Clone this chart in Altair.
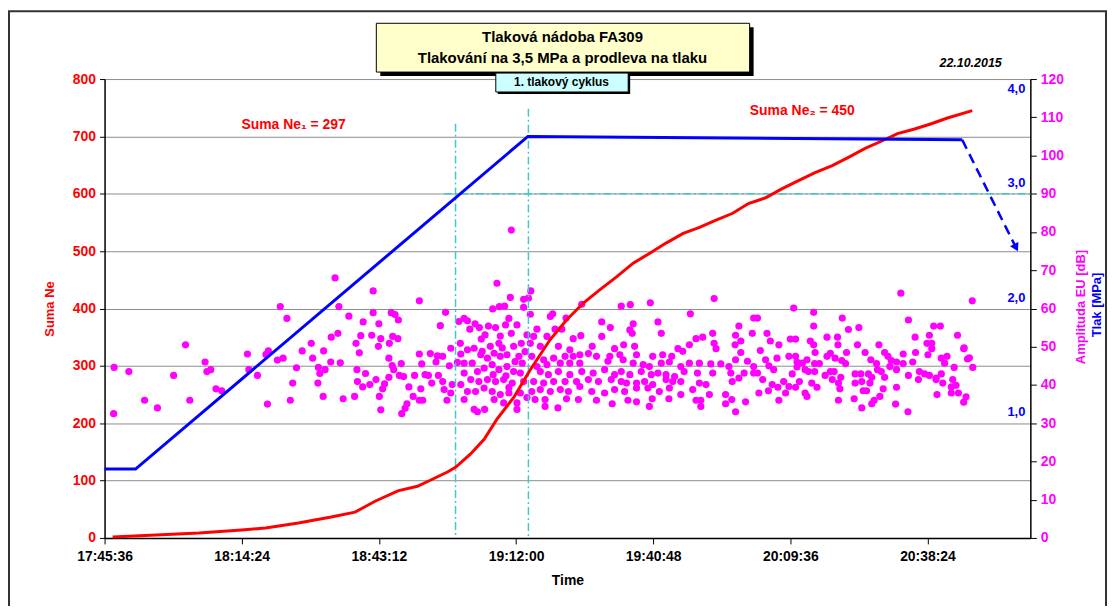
import altair as alt
import pandas as pd

FONT = "Liberation Sans"

# ---------------- data (time = minutes since midnight) ----------------
x_ticks = [1065.6, 1094.4, 1123.2, 1152.0, 1180.8, 1209.6, 1238.4]

ne_time = [1067.3, 1085.4, 1094.4, 1099.4, 1106.3, 1113.2, 1118.2, 1122.4, 1127.2, 1131.3,
           1134.1, 1137.6, 1139.3, 1142.4, 1145.3, 1148.0, 1151.6, 1154.9, 1159.1, 1162.6,
           1166.2, 1169.5, 1173.1, 1176.6, 1180.0, 1183.5, 1187.1, 1190.4, 1194.0, 1197.5,
           1200.8, 1204.4, 1207.9, 1211.3, 1214.8, 1218.4, 1221.7, 1225.3, 1228.8, 1232.1,
           1235.7, 1239.2, 1242.6, 1247.8]
ne_sum = [1.7, 8.7, 13.9, 17.4, 26, 36.4, 45, 64, 82, 90,
          101, 115, 123, 146, 172, 207, 246, 292, 345, 380,
          410, 432, 455, 479, 496, 514, 531, 541, 554, 566,
          583, 593, 609, 623, 637, 649, 663, 679, 692, 705,
          713, 722, 732, 745]

p_time = [1065.6, 1072.1, 1154.5, 1245.7]
p_mpa = [0.6, 0.6, 3.5, 3.47]
p_drop_time = [1245.7, 1257.0]
p_drop_mpa = [3.47, 2.53]
p_labels = [4.0, 3.0, 2.0, 1.0]

eu_time = [
    1067.6, 1067.5, 1070.7, 1074.0, 1076.7, 1080.1, 1082.6, 1083.5, 1086.7, 1087.1,
    1087.9, 1089.0, 1090.2, 1095.6, 1095.9, 1097.7, 1099.5, 1100.0, 1099.8, 1101.9,
    1103.1, 1102.5, 1103.9, 1104.6, 1105.1, 1105.9, 1107.1, 1109.0, 1109.3, 1110.5,
    1110.4, 1110.8, 1111.5, 1111.6, 1111.9, 1114.0, 1114.8, 1122.0, 1131.7, 1151.0,
    1148.0, 1150.8, 1153.6, 1147.1, 1148.5, 1149.6, 1153.6, 1113.2, 1114.6, 1116.9,
    1113.1, 1115.1, 1119.9, 1122.0, 1125.8, 1126.6, 1127.3, 1123.2, 1119.4, 1118.4,
    1121.7, 1123.6, 1123.1, 1125.4, 1126.1, 1127.2, 1119.1, 1125.3, 1126.0, 1127.9,
    1118.6, 1120.4, 1126.3, 1118.7, 1119.8, 1121.3, 1122.6, 1124.4, 1125.3, 1124.0,
    1115.7, 1118.1, 1123.3, 1123.6, 1127.5, 1128.4, 1129.5, 1130.7, 1131.7, 1132.2,
    1132.9, 1132.0, 1130.4, 1131.7, 1132.4, 1129.1, 1128.7, 1128.0, 1134.0, 1135.2,
    1135.5, 1136.6, 1136.1, 1137.2, 1133.6, 1134.3, 1135.7, 1136.6, 1136.9, 1137.5,
    1138.3, 1138.6, 1138.0, 1138.3, 1139.7, 1140.0, 1141.1, 1141.8, 1142.3, 1143.4,
    1144.3, 1146.2, 1147.7, 1149.8, 1150.5, 1151.0, 1148.7, 1144.7, 1140.3, 1141.8,
    1143.2, 1144.9, 1146.6, 1148.4, 1151.5, 1153.1, 1140.4, 1141.1, 1142.8, 1144.6,
    1146.0, 1147.4, 1148.7, 1150.1, 1152.6, 1153.3, 1143.9, 1145.3, 1147.0, 1148.4,
    1150.1, 1151.5, 1152.9, 1141.1, 1142.5, 1144.2, 1146.0, 1147.7, 1149.4, 1151.2,
    1153.6, 1140.4, 1141.8, 1143.5, 1145.3, 1147.0, 1148.7, 1150.5, 1152.9, 1141.1,
    1143.2, 1143.9, 1145.4, 1147.4, 1149.4, 1152.2, 1152.2, 1154.3, 1153.9, 1151.8,
    1150.5, 1154.3, 1149.1, 1145.5, 1152.2, 1147.2, 1149.9, 1155.1, 1154.6, 1155.0,
    1159.2, 1159.7, 1162.5, 1165.8, 1174.1, 1176.0, 1180.2, 1193.6, 1188.6, 1201.9,
    1181.8, 1170.0, 1171.8, 1176.6, 1175.9, 1176.4, 1182.5, 1156.4, 1160.2, 1161.6,
    1155.7, 1158.5, 1164.0, 1165.6, 1170.0, 1172.7, 1174.6, 1176.9, 1168.0, 1163.3,
    1160.9, 1157.1, 1155.0, 1186.0, 1188.4, 1189.8, 1191.2, 1193.3, 1193.6, 1194.0,
    1198.1, 1198.8, 1199.2, 1198.0, 1201.6, 1199.2, 1187.0, 1182.8, 1184.7, 1180.7,
    1177.3, 1173.8, 1171.7, 1168.9, 1167.2, 1165.4, 1164.0, 1162.3, 1159.9, 1157.8,
    1155.3, 1156.4, 1158.5, 1161.3, 1163.3, 1165.4, 1171.3, 1174.5, 1176.6, 1178.7,
    1180.0, 1182.5, 1184.2, 1186.6, 1188.4, 1190.5, 1192.9, 1195.0, 1196.7, 1198.1,
    1200.6, 1201.9, 1157.1, 1158.8, 1160.9, 1163.3, 1165.8, 1168.2, 1170.6, 1172.7,
    1174.1, 1175.9, 1178.3, 1180.4, 1181.8, 1183.5, 1185.3, 1187.3, 1190.1, 1193.3,
    1197.1, 1199.9, 1201.9, 1155.7, 1157.8, 1159.9, 1162.3, 1164.7, 1167.2, 1169.3,
    1172.0, 1174.1, 1175.2, 1177.3, 1179.0, 1180.7, 1183.5, 1184.9, 1186.6, 1190.5,
    1191.9, 1197.4, 1198.8, 1155.3, 1157.1, 1159.2, 1161.3, 1163.0, 1165.4, 1167.9,
    1170.6, 1172.7, 1174.8, 1177.3, 1179.7, 1182.1, 1184.2, 1186.6, 1189.1, 1192.6,
    1196.0, 1156.0, 1158.1, 1162.6, 1165.1, 1168.9, 1172.2, 1175.5, 1177.3, 1180.6,
    1184.1, 1189.8, 1190.8, 1196.0, 1197.3, 1200.2, 1158.1, 1160.8, 1180.0, 1190.8, 1198.1,
    1210.3, 1214.5, 1214.5, 1220.5, 1221.8, 1224.0, 1232.8, 1234.4, 1239.7,
    1241.1, 1247.8, 1235.8, 1238.8, 1238.3, 1239.3, 1239.3, 1244.7, 1246.0, 1235.9,
    1233.3, 1228.2, 1223.7, 1219.5, 1217.3, 1219.6, 1213.8, 1214.5, 1209.6, 1210.7,
    1204.7, 1205.4, 1207.2, 1202.7, 1203.3, 1206.8, 1209.3, 1210.7, 1204.4, 1205.1,
    1211.0, 1212.1, 1213.1, 1214.8, 1214.7, 1215.7, 1217.3, 1218.0, 1219.0, 1220.4,
    1221.4, 1221.2, 1225.3, 1226.5, 1227.7, 1229.4, 1230.1, 1230.8, 1231.9, 1233.3,
    1235.3, 1238.5, 1241.3, 1242.0, 1242.5, 1244.0, 1246.8, 1247.9, 1206.1, 1210.0,
    1211.0, 1212.7, 1213.4, 1214.7, 1216.9, 1218.0, 1218.8, 1220.2, 1223.2, 1224.4,
    1226.0, 1226.7, 1227.9, 1228.7, 1229.4, 1230.5, 1231.9, 1234.4, 1236.7, 1237.8,
    1238.8, 1240.2, 1241.3, 1243.7, 1202.7, 1203.8, 1205.8, 1207.0, 1208.2, 1209.3,
    1210.7, 1211.5, 1214.1, 1215.2, 1218.4, 1219.7, 1220.0, 1223.2, 1224.6, 1226.3,
    1229.1, 1231.9, 1236.5, 1240.2, 1241.6, 1243.4, 1244.4, 1203.0, 1205.0, 1208.6,
    1212.7, 1213.1, 1219.7, 1223.0, 1224.9, 1225.6, 1227.2, 1228.4, 1231.7, 1234.3,
    1240.4, 1243.4, 1244.9, 1246.5, 1246.0, 1207.2, 1224.6, 1226.7, 1247.2, 1246.1,
]
eu_db = [
    44.6, 32.5, 43.5, 36.0, 34.0, 42.5, 50.5, 36.0, 46.0, 43.5,
    44.0, 39.0, 38.5, 48.1, 44.0, 42.5, 48.0, 48.9, 35.0, 46.5,
    47.0, 60.5, 57.4, 36.0, 40.5, 44.5, 48.9, 50.9, 47.0, 44.6,
    40.5, 43.0, 37.0, 48.9, 44.0, 68.0, 60.5, 64.6, 62.0, 80.5,
    66.6, 62.9, 62.4, 59.9, 60.5, 60.6, 60.3, 52.5, 53.5, 58.0,
    46.0, 45.8, 56.5, 58.9, 58.9, 58.4, 57.0, 56.0, 52.9, 50.9,
    53.0, 52.1, 50.1, 50.9, 52.7, 52.1, 48.4, 47.0, 45.1, 45.6,
    44.0, 43.0, 44.0, 40.9, 39.5, 40.1, 41.4, 40.3, 42.0, 39.0,
    36.4, 37.0, 37.0, 33.5, 42.5, 42.2, 39.5, 42.5, 48.1, 45.5,
    42.7, 39.0, 37.0, 36.0, 36.0, 35.1, 33.9, 32.5, 48.2, 46.0,
    47.6, 47.5, 55.5, 59.0, 42.5, 40.5, 42.5, 40.9, 38.8, 36.0,
    37.9, 40.1, 45.0, 49.6, 45.9, 56.6, 57.4, 56.8, 54.6, 56.0,
    55.0, 55.4, 55.0, 55.7, 57.4, 53.5, 52.8, 52.0, 50.9, 49.2,
    49.6, 48.8, 50.1, 50.9, 50.1, 50.9, 48.1, 45.7, 45.7, 47.9,
    47.0, 48.3, 47.5, 47.9, 47.5, 45.7, 43.5, 44.4, 45.3, 44.0,
    44.8, 43.5, 43.1, 43.1, 41.4, 40.9, 41.4, 40.9, 41.4, 40.5,
    40.9, 40.1, 38.3, 38.3, 39.2, 38.3, 37.5, 37.9, 37.9, 36.2,
    33.6, 33.0, 33.6, 36.2, 35.3, 35.3, 33.6, 53.1, 48.7, 46.1,
    39.3, 36.7, 49.7, 53.1, 55.7, 42.7, 42.4, 64.6, 62.7, 58.5,
    57.9, 58.6, 57.5, 61.1, 60.6, 61.0, 61.5, 62.6, 58.6, 57.5,
    56.5, 56.5, 55.0, 56.0, 54.4, 53.5, 53.5, 54.6, 54.6, 54.6,
    52.7, 52.7, 52.1, 52.9, 52.7, 49.5, 50.5, 50.1, 50.1, 49.2,
    50.1, 50.1, 50.9, 49.5, 50.5, 52.1, 52.5, 53.5, 50.9, 49.5,
    53.0, 55.4, 51.5, 50.5, 53.5, 48.5, 48.8, 47.9, 47.5, 47.5,
    47.9, 47.9, 47.5, 47.5, 48.2, 47.9, 47.5, 47.5, 47.0, 46.6,
    47.5, 44.8, 45.3, 45.7, 45.7, 45.7, 46.2, 46.6, 45.7, 45.3,
    44.8, 45.7, 46.0, 44.8, 45.7, 45.7, 45.5, 45.5, 44.8, 46.6,
    46.2, 44.8, 43.5, 42.7, 43.5, 42.7, 43.5, 43.1, 44.0, 42.7,
    43.5, 42.7, 43.5, 42.7, 43.1, 42.7, 42.2, 43.5, 43.1, 43.1,
    43.1, 43.1, 43.1, 40.9, 40.5, 40.9, 40.9, 40.9, 41.4, 40.9,
    41.4, 40.9, 40.5, 40.5, 40.9, 40.1, 41.4, 40.9, 40.9, 40.5,
    40.1, 40.9, 41.8, 38.3, 38.8, 38.3, 38.8, 38.3, 39.6, 38.3,
    37.9, 38.8, 38.3, 39.2, 39.2, 38.3, 39.2, 37.5, 38.8, 37.5,
    37.5, 36.2, 36.2, 36.4, 36.2, 36.0, 35.1, 36.0, 35.6, 36.4,
    36.4, 36.0, 36.0, 35.1, 36.2, 35.6, 34.4, 34.0, 34.4, 34.4, 33.0,
    60.1, 59.0, 55.4, 57.5, 54.5, 55.0, 64.0, 57.0, 55.4,
    55.4, 62.0, 52.5, 53.0, 50.9, 50.9, 49.5, 53.0, 49.5, 48.5,
    48.1, 50.5, 50.5, 52.5, 52.5, 50.5, 51.5, 50.5, 52.0, 52.0,
    53.5, 51.5, 50.5, 57.5, 49.0, 47.0, 47.5, 47.5, 46.6, 45.0,
    46.0, 45.7, 46.6, 48.5, 45.6, 45.6, 47.5, 48.3, 47.0, 46.4,
    48.5, 45.6, 48.5, 46.6, 45.6, 48.5, 47.5, 46.4, 46.0, 45.6,
    46.0, 47.9, 47.0, 45.7, 47.5, 44.6, 46.8, 44.6, 44.0, 42.9,
    44.7, 44.0, 43.5, 43.5, 42.5, 43.5, 43.5, 42.0, 42.9, 42.9,
    42.9, 42.0, 44.0, 43.5, 42.0, 44.8, 44.0, 42.5, 43.5, 42.9,
    42.5, 41.8, 42.9, 41.4, 43.1, 41.4, 40.1, 39.4, 40.9, 39.6,
    39.4, 40.9, 40.5, 39.4, 41.4, 40.5, 39.0, 40.5, 40.9, 40.5,
    39.0, 39.4, 41.4, 41.4, 40.5, 39.5, 39.9, 37.9, 38.5, 37.9,
    37.9, 37.0, 36.0, 36.4, 38.5, 38.5, 36.0, 37.0, 35.0, 33.0,
    37.5, 37.9, 37.9, 36.9, 35.5, 36.0, 34.0, 35.1, 47.1, 49.7,
]

# reference lines (cyan dash-dot), in Suma Ne units
vline_time = [1139.3, 1154.6]
vline_top = [722, 748]
hline_start = [1136.9]
hline_level = [600]

# annotations
ann_text = ["Suma Ne\u2081 = 297", "Suma Ne\u2082 = 450"]
ann_time = [1105.3, 1212.1]
ann_val = [720, 744]

# ---------------- layout ----------------
X0, Y0 = 105, 78       # plot-area origin on the page (for decorations)
W, H = 930, 461
CANVAS_W, CANVAS_H = 1105, 598

def px(x):
    return x - X0

def py(y):
    return y - Y0

X_DOMAIN = [1065.6, 1260.0]
xscale = alt.Scale(domain=X_DOMAIN, nice=False, zero=False)
xaxis = alt.Axis(values=x_ticks,
                 labelExpr="utcFormat(round(datum.value*60)*1000, '%H:%M:%S')",
                 title="Time", labelFont=FONT, labelFontWeight="bold", labelFontSize=14,
                 labelColor="black", titleFont=FONT, titleFontSize=14, titleFontWeight="bold",
                 titleColor="black", titlePadding=10, tickSize=6, tickColor="black",
                 domainColor="black", domainWidth=1.5, grid=False, labelPadding=6,
                 labelOverlap=False, labelFlush=False)


def X(field):
    return alt.X(f"{field}:Q", scale=xscale, axis=xaxis)


ne_df = pd.DataFrame({"t": ne_time, "v": ne_sum})
p_df = pd.DataFrame({"t": p_time, "p": p_mpa})
pd_df = pd.DataFrame({"t": p_drop_time, "p": p_drop_mpa})
eu_df = pd.DataFrame({"t": eu_time, "db": eu_db})
vl_df = pd.DataFrame({"t": vline_time, "top": vline_top, "bot": [0, 0]})
hl_df = pd.DataFrame({"t": hline_start, "t2": [X_DOMAIN[1]], "v": hline_level})
ann_df = pd.DataFrame({"t": ann_time, "v": ann_val, "txt": ann_text})
pl_df = pd.DataFrame({"p": p_labels, "txt": [f"{v:.1f}".replace(".", ",") for v in p_labels]})
one = pd.DataFrame({"a": [0]})

NE_SCALE = alt.Scale(domain=[0, 800], nice=False, zero=True)
P_SCALE = alt.Scale(domain=[0, 4], nice=False, zero=True)
EU_SCALE = alt.Scale(domain=[0, 120], nice=False, zero=True)

left_axis = alt.Axis(orient="left", values=list(range(0, 801, 100)), title="Suma Ne",
                     titleColor="#FF0000", titleFont=FONT, titleFontSize=13,
                     titleFontWeight="bold", titlePadding=16, labelColor="#FF0000",
                     labelFont=FONT, labelFontSize=14, labelFontWeight="bold", labelPadding=4,
                     grid=True, gridColor="#8c8c8c", gridWidth=1, tickSize=5,
                     tickColor="black", domainColor="black", domainWidth=1.5)
right_axis = alt.Axis(orient="right", values=list(range(0, 121, 10)), title="",
                      labelColor="#FF00FF", labelFont=FONT, labelFontSize=14,
                      labelFontWeight="bold", labelPadding=4, grid=False, tickSize=6,
                      tickColor="black", domainColor="black", domainWidth=1.5)

# scatter of EU amplitudes (right axis)
eu = alt.Chart(eu_df).mark_circle(size=52, color="#FF00FF", opacity=1).encode(
    x=X("t"), y=alt.Y("db:Q", scale=EU_SCALE, axis=right_axis))

# cumulative Suma Ne (left axis)
ne = alt.Chart(ne_df).mark_line(color="#FF0000", strokeWidth=3).encode(
    x=X("t"), y=alt.Y("v:Q", scale=NE_SCALE, axis=left_axis))

# cyan reference lines
vrules = alt.Chart(vl_df).mark_rule(color="#40C8D0", strokeWidth=1.5,
                                    strokeDash=[8, 3, 2, 3]).encode(
    x=X("t"), y=alt.Y("top:Q", scale=NE_SCALE, axis=None), y2="bot:Q")
hrule = alt.Chart(hl_df).mark_rule(color="#40C8D0", strokeWidth=1.5,
                                   strokeDash=[8, 3, 2, 3]).encode(
    x=X("t"), x2="t2:Q", y=alt.Y("v:Q", scale=NE_SCALE, axis=None))

# pressure
press = alt.Chart(p_df).mark_line(color="#0000FF", strokeWidth=3).encode(
    x=X("t"), y=alt.Y("p:Q", scale=P_SCALE, axis=None))
press_drop = alt.Chart(pd_df).mark_line(color="#0000FF", strokeWidth=2.5,
                                        strokeDash=[10, 6]).encode(
    x=X("t"), y=alt.Y("p:Q", scale=P_SCALE, axis=None))
arrow = alt.Chart(pd_df.tail(1)).mark_point(shape="triangle-up", angle=153, filled=True,
                                            size=90, color="#0000FF", opacity=1).encode(
    x=X("t"), y=alt.Y("p:Q", scale=P_SCALE, axis=None))

pl_top = alt.Chart(pl_df.head(1)).mark_text(
    align="right", baseline="middle", dy=10, font=FONT, fontSize=13, fontWeight="bold",
    color="#0000FF").encode(x=alt.value(W - 5), y=alt.Y("p:Q", scale=P_SCALE, axis=None),
                            text="txt:N")
pl_rest = alt.Chart(pl_df.tail(3)).mark_text(
    align="right", baseline="middle", dy=-11, font=FONT, fontSize=13, fontWeight="bold",
    color="#0000FF").encode(x=alt.value(W - 5), y=alt.Y("p:Q", scale=P_SCALE, axis=None),
                            text="txt:N")

ann = alt.Chart(ann_df).mark_text(font=FONT, fontSize=14, fontWeight="bold",
                                  color="#FF0000", align="center", baseline="middle").encode(
    x=X("t"), y=alt.Y("v:Q", scale=NE_SCALE, axis=None), text="txt:N")


# ---------------- decorations (pixel placed) ----------------
def rect(x1, y1, x2, y2, **kw):
    return alt.Chart(one).mark_rect(**kw).encode(
        x=alt.value(px(x1)), x2=alt.value(px(x2)), y=alt.value(py(y1)), y2=alt.value(py(y2)))


def text(s, x, y, **kw):
    base = dict(font=FONT, fontWeight="bold", align="center", baseline="middle")
    base.update(kw)
    return alt.Chart(one).mark_text(text=s, **base).encode(
        x=alt.value(px(x)), y=alt.value(py(y)))


frame = rect(9, 10, 1111, 620, fillOpacity=0, stroke="#333333", strokeWidth=2)
title_shadow = rect(382, 26, 757, 75, color="black")
title_box = rect(378, 22, 753, 71, fill="#FFFFCC", stroke="black", strokeWidth=1)
sub_shadow = rect(500, 74, 633, 93, color="black")
sub_box = rect(498, 72, 631, 91, fill="#CCFFFF", stroke="black", strokeWidth=1)

t1 = text("Tlaková nádoba  FA309", 565, 36, fontSize=15, color="black")
t2 = text("Tlakování na 3,5 MPa a prodleva na tlaku", 565, 57, fontSize=15, color="black")
t3 = text("1. tlakový cyklus", 564, 81, fontSize=12, color="black")
tdate = text("22.10.2015", 975, 62, fontSize=12.5, fontStyle="italic", color="black")
ty1 = text("Amplituda EU [dB]", 1086, 307, fontSize=13, color="#FF00FF", angle=270)
ty2 = text("Tlak [MPa]", 1102, 305, fontSize=13, color="#0000FF", angle=270)

chart = alt.layer(
    eu, vrules, hrule, ne, press, press_drop, arrow, pl_top, pl_rest, ann,
    frame, title_shadow, title_box, sub_shadow, sub_box, t1, t2, t3, tdate, ty1, ty2,
).resolve_scale(y="independent").properties(
    width=W, height=H,
    autosize=alt.AutoSizeParams(type="none"),
    padding={"left": X0 - 8, "top": Y0 - 8, "right": CANVAS_W - (X0 - 8) - W,
             "bottom": CANVAS_H - (Y0 - 8) - H},
    background="white",
).configure_view(strokeWidth=0)

chart.save("out.html", embed_options={"renderer": "svg", "actions": False})
